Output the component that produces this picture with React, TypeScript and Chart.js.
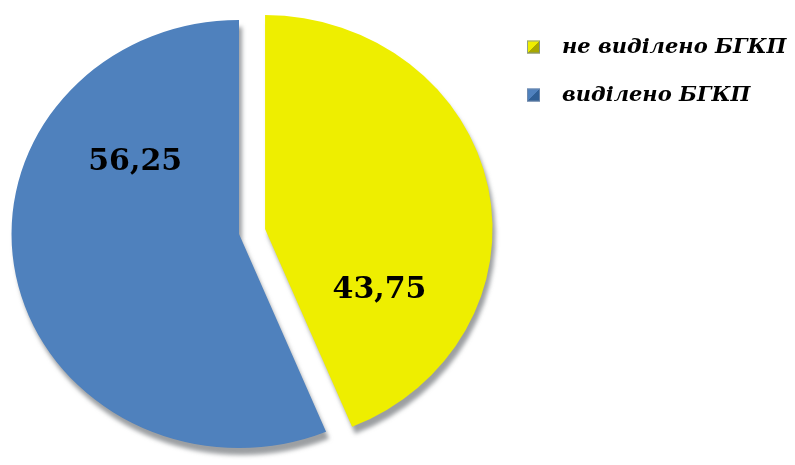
import React, { useEffect, useRef } from "react";
import { Chart, registerables } from "chart.js";

Chart.register(...registerables);

const categories = ["не виділено БГКП", "виділено БГКП"];
const values = [43.75, 56.25];
const valueLabels = ["43,75", "56,25"];
const sliceColors = ["#EEEE00", "#4F81BD"];
const sliceEdge = ["#A8A800", "#2F5F95"];

const ELLIPSE_X = 1.063;
const EXPLODE = [25, 0];
// label anchor per slice: canvas angle (deg) and radius fraction
const LABEL_ANCHORS = [
  { angle: 29.5, frac: 0.578 },
  { angle: -143.6, frac: 0.567 },
];

export default function App() {
  const ref = useRef<HTMLCanvasElement | null>(null);

  useEffect(() => {
    if (!ref.current) return;

    const explodePlugin = {
      id: "explodeSlices",
      afterDatasetUpdate(chart: any, args: any) {
        const meta = chart.getDatasetMeta(args.index);
        meta.data.forEach((arc: any, i: number) => {
          const d = EXPLODE[i] || 0;
          if (!d) return;
          const mid = (arc.startAngle + arc.endAngle) / 2;
          arc.x += Math.cos(mid) * d;
          arc.y += Math.sin(mid) * d;
        });
      },
    };

    const ellipsePlugin = {
      id: "ellipse3d",
      beforeDatasetsDraw(chart: any) {
        const { ctx, chartArea } = chart;
        const cx = (chartArea.left + chartArea.right) / 2;
        const cy = (chartArea.top + chartArea.bottom) / 2;
        ctx.save();
        ctx.translate(cx, cy);
        ctx.scale(ELLIPSE_X, 1);
        ctx.translate(-cx, -cy);
        ctx.shadowColor = "rgba(90,95,100,0.6)";
        ctx.shadowBlur = 4;
        ctx.shadowOffsetX = 3;
        ctx.shadowOffsetY = 7;
      },
      afterDatasetsDraw(chart: any) {
        const { ctx, chartArea } = chart;
        ctx.restore();
        const cx = (chartArea.left + chartArea.right) / 2;
        const meta = chart.getDatasetMeta(0);
        ctx.save();
        ctx.fillStyle = "#000000";
        ctx.font = "bold 30px 'DejaVu Serif'";
        ctx.textAlign = "center";
        ctx.textBaseline = "middle";
        meta.data.forEach((arc: any, i: number) => {
          const a = LABEL_ANCHORS[i];
          const rad = (a.angle * Math.PI) / 180;
          const r = arc.outerRadius * a.frac;
          const px = arc.x + Math.cos(rad) * r;
          const py = arc.y + Math.sin(rad) * r;
          const sx = cx + (px - cx) * ELLIPSE_X;
          ctx.fillText(valueLabels[i], sx, py);
        });
        ctx.restore();
      },
    };

    const legendPlugin = {
      id: "customLegend",
      afterDraw(chart: any) {
        const { ctx } = chart;
        const labels = chart.data.labels as string[];
        ctx.save();
        labels.forEach((lab, i) => {
          const y = 47 + i * 48;
          const x = 527;
          const s = 13;
          const g = ctx.createLinearGradient(x, y - s / 2, x + s, y + s / 2);
          g.addColorStop(0, sliceColors[i]);
          g.addColorStop(0.5, sliceColors[i]);
          g.addColorStop(0.5, sliceEdge[i]);
          g.addColorStop(1, sliceEdge[i]);
          ctx.fillStyle = g;
          ctx.fillRect(x, y - s / 2, s, s);
          ctx.strokeStyle = "rgba(120,140,170,0.8)";
          ctx.lineWidth = 1;
          ctx.strokeRect(x + 0.5, y - s / 2 + 0.5, s - 1, s - 1);
          ctx.fillStyle = "#000000";
          ctx.font = "italic bold 21px 'DejaVu Serif'";
          ctx.textAlign = "left";
          ctx.textBaseline = "middle";
          ctx.fillText(lab, 562, y + 1);
        });
        ctx.restore();
      },
    };

    const chart = new Chart(ref.current, {
      type: "pie",
      data: {
        labels: categories,
        datasets: [
          {
            data: values,
            backgroundColor: sliceColors,
            borderWidth: 0,
          },
        ],
      },
      options: {
        animation: false,
        responsive: false,
        radius: 214,
        layout: { padding: { left: 0, top: 3, right: 317, bottom: 0 } },
        plugins: {
          legend: { display: false },
          tooltip: { enabled: false },
        },
      },
      plugins: [explodePlugin, ellipsePlugin, legendPlugin],
    });

    return () => chart.destroy();
  }, []);

  return (
    <div style={{ position: "fixed", left: 0, top: 0, width: 795, height: 465, background: "#fff" }}>
      <canvas ref={ref} width={795} height={465} />
    </div>
  );
}
